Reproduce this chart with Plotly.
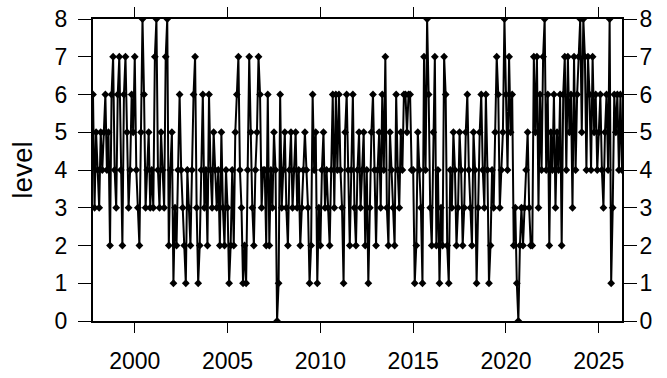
import plotly.graph_objects as go

# monthly readings, Oct 1997 .. Apr 2026
start_year = 1997
start_month = 10
levels_1997 = [6, 3, 5]
levels_1998 = [4, 3, 5, 4, 5, 6, 4, 5, 2, 6, 7, 4]
levels_1999 = [3, 6, 7, 4, 2, 6, 7, 5, 3, 4, 6, 5]
levels_2000 = [7, 4, 3, 2, 5, 8, 6, 3, 4, 5, 3, 4]
levels_2001 = [3, 7, 8, 4, 3, 5, 4, 3, 7, 8, 2, 4]
levels_2002 = [5, 1, 3, 2, 4, 6, 4, 3, 2, 1, 4, 3]
levels_2003 = [2, 4, 6, 7, 3, 1, 2, 4, 6, 3, 4, 2]
levels_2004 = [6, 4, 3, 5, 4, 3, 4, 2, 5, 3, 2, 4]
levels_2005 = [3, 1, 2, 4, 2, 5, 6, 7, 4, 3, 1, 2]
levels_2006 = [1, 4, 7, 5, 3, 2, 4, 5, 7, 6, 3, 4]
levels_2007 = [4, 2, 6, 2, 4, 3, 5, 4, 0, 1, 6, 3]
levels_2008 = [4, 5, 3, 2, 4, 5, 3, 4, 5, 3, 4, 2]
levels_2009 = [3, 4, 5, 4, 3, 1, 2, 6, 4, 5, 1, 3]
levels_2010 = [2, 4, 5, 3, 4, 3, 2, 4, 6, 3, 6, 4]
levels_2011 = [6, 4, 3, 1, 5, 6, 4, 2, 4, 6, 3, 2]
levels_2012 = [4, 5, 3, 4, 5, 2, 4, 1, 3, 5, 6, 4]
levels_2013 = [2, 4, 5, 3, 6, 4, 7, 3, 2, 5, 4, 3]
levels_2014 = [2, 6, 4, 3, 5, 4, 6, 6, 5, 6, 6, 4]
levels_2015 = [4, 1, 2, 5, 4, 3, 1, 7, 4, 8, 6, 3]
levels_2016 = [2, 5, 7, 2, 4, 1, 3, 2, 7, 6, 2, 1]
levels_2017 = [4, 3, 5, 4, 2, 3, 5, 4, 2, 3, 5, 6]
levels_2018 = [4, 3, 2, 5, 4, 1, 3, 5, 6, 4, 3, 6]
levels_2019 = [4, 1, 2, 4, 3, 5, 7, 6, 3, 4, 5, 8]
levels_2020 = [6, 4, 7, 5, 6, 2, 3, 1, 0, 2, 3, 2]
levels_2021 = [3, 4, 5, 3, 2, 2, 7, 5, 7, 3, 6, 4]
levels_2022 = [7, 8, 4, 6, 2, 5, 4, 6, 3, 5, 4, 6]
levels_2023 = [2, 6, 7, 4, 7, 5, 6, 3, 7, 4, 6, 7]
levels_2024 = [8, 5, 8, 7, 4, 7, 6, 4, 7, 5, 6, 4]
levels_2025 = [5, 6, 4, 3, 5, 6, 4, 8, 1, 3, 6, 5]
levels_2026 = [6, 4, 6, 4]

year_ticks = [2000, 2005, 2010, 2015, 2020, 2025]
level_ticks = [0, 1, 2, 3, 4, 5, 6, 7, 8]

level = (levels_1997 + levels_1998 + levels_1999 + levels_2000 + levels_2001
         + levels_2002 + levels_2003 + levels_2004 + levels_2005 + levels_2006
         + levels_2007 + levels_2008 + levels_2009 + levels_2010 + levels_2011
         + levels_2012 + levels_2013 + levels_2014 + levels_2015 + levels_2016
         + levels_2017 + levels_2018 + levels_2019 + levels_2020 + levels_2021
         + levels_2022 + levels_2023 + levels_2024 + levels_2025 + levels_2026)
time = [start_year + (start_month - 1 + i) / 12 for i in range(len(level))]

fig = go.Figure()

fig.add_trace(go.Scatter(
    x=time,
    y=level,
    mode='lines+markers',
    line=dict(color='black', width=2),
    marker=dict(symbol='diamond', size=6, color='black'),
    showlegend=False
))

font = dict(family='Liberation Sans, Arial, sans-serif', size=23, color='black')

fig.update_layout(
    width=667,
    height=378,
    margin=dict(l=93, r=45, t=19, b=57),
    plot_bgcolor='white',
    paper_bgcolor='white',
    font=font,
    xaxis=dict(
        range=[time[0], time[-1]],
        tickvals=year_ticks,
        ticktext=[str(y) for y in year_ticks],
        ticks='outside', ticklen=10, tickwidth=1, tickcolor='black',
        showline=True, linecolor='black', linewidth=2, mirror='ticks',
        showgrid=False, zeroline=False, automargin=False,
        ticklabelstandoff=8, ticklabeloverflow='allow'
    ),
    yaxis=dict(
        range=[0, 8],
        tickvals=level_ticks,
        ticks='outside', ticklen=13, tickwidth=1, tickcolor='black',
        showline=True, linecolor='black', linewidth=2, mirror='ticks',
        showgrid=False, zeroline=False, automargin=False,
        title=dict(text='level', standoff=14),
        ticklabelstandoff=6, ticklabeloverflow='allow'
    ),
    yaxis2=dict(
        range=[0, 8],
        tickvals=level_ticks,
        overlaying='y', side='right', matches='y',
        ticks='outside', ticklen=10, tickwidth=1, tickcolor='black',
        showline=False, showgrid=False, zeroline=False, automargin=False,
        ticklabelstandoff=2, ticklabeloverflow='allow'
    )
)

# invisible trace so the right-hand axis is drawn
fig.add_trace(go.Scatter(x=[time[0]], y=[4], yaxis='y2', mode='markers',
                         marker=dict(opacity=0), showlegend=False, hoverinfo='skip'))

# drop the page's default body margin so the figure sits at the window's corner
fig.write_html("out.html", config={'displayModeBar': False},
               post_script="document.body.style.margin='0';")
